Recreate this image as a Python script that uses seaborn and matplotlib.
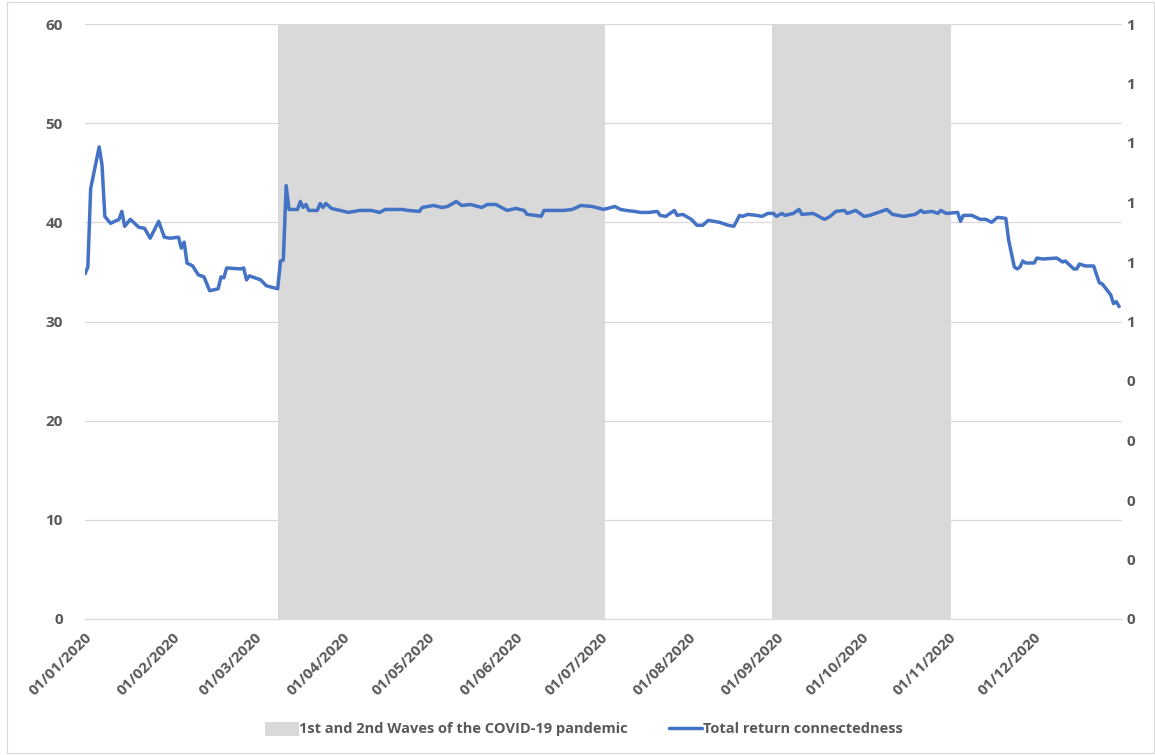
import pandas as pd
import numpy as np
import seaborn as sns
import matplotlib.pyplot as plt
from matplotlib.patches import Patch, Rectangle
from matplotlib.lines import Line2D

# days since 01/01/2020 and total connectedness value
day_offset = [0, 1, 2, 5, 6, 7, 9, 12, 13, 14, 16, 19, 21, 23, 26, 28, 30, 33, 34, 35,
              36, 38, 40, 42, 43, 44, 47, 48, 49, 50, 55, 56, 57, 58, 62, 64, 68, 69, 70, 71,
              72, 75, 76, 77, 78, 79, 82, 83, 84, 85, 87, 90, 93, 97, 101, 104, 106, 112, 114, 118,
              119, 123, 126, 128, 131, 133, 136, 140, 142, 145, 149, 152, 155, 156, 159, 161, 162, 169, 172, 175,
              179, 183, 187, 189, 191, 194, 196, 199, 202, 203, 205, 208, 209, 211, 214, 216, 218, 220, 224, 227,
              229, 231, 232, 234, 237, 239, 241, 243, 244, 246, 247, 250, 252, 253, 257, 261, 263, 265, 268, 269,
              272, 275, 277, 280, 283, 285, 289, 293, 295, 296, 299, 301, 302, 304, 308, 309, 310, 313, 316, 318,
              320, 322, 325, 326, 328, 329, 330, 331, 332, 335, 336, 338, 343, 345, 346, 349, 350, 351, 353, 356,
              358, 359, 362, 363, 364, 365]
connectedness = [34.8, 35.5, 43.4, 47.6, 45.8, 40.6, 39.9, 40.3, 41.1, 39.6, 40.3, 39.5, 39.4, 38.4, 40.1, 38.5, 38.4, 38.5, 37.4, 38.0,
                 35.9, 35.6, 34.7, 34.5, 33.8, 33.1, 33.3, 34.5, 34.4, 35.4, 35.3, 35.4, 34.2, 34.6, 34.2, 33.6, 33.3, 36.1, 36.2, 43.7,
                 41.3, 41.3, 42.1, 41.5, 41.8, 41.2, 41.2, 41.9, 41.5, 41.9, 41.4, 41.2, 41.0, 41.2, 41.2, 41.0, 41.3, 41.3, 41.2, 41.1,
                 41.5, 41.7, 41.5, 41.6, 42.1, 41.7, 41.8, 41.5, 41.8, 41.8, 41.2, 41.4, 41.2, 40.8, 40.7, 40.6, 41.2, 41.2, 41.3, 41.7,
                 41.6, 41.3, 41.6, 41.3, 41.2, 41.1, 41.0, 41.0, 41.1, 40.7, 40.6, 41.2, 40.7, 40.8, 40.3, 39.7, 39.7, 40.2, 40.0, 39.7,
                 39.6, 40.7, 40.6, 40.8, 40.7, 40.6, 40.9, 40.9, 40.6, 40.9, 40.7, 40.9, 41.3, 40.8, 40.9, 40.3, 40.6, 41.1, 41.2, 40.9,
                 41.2, 40.6, 40.7, 41.0, 41.3, 40.8, 40.6, 40.8, 41.2, 41.0, 41.1, 40.9, 41.2, 40.9, 41.0, 40.1, 40.7, 40.7, 40.3, 40.3,
                 40.0, 40.5, 40.4, 38.2, 35.5, 35.3, 35.5, 36.1, 35.9, 35.9, 36.4, 36.3, 36.4, 36.0, 36.1, 35.3, 35.3, 35.8, 35.6, 35.6,
                 33.9, 33.8, 32.7, 31.8, 32.0, 31.5]

wave_starts = ['2020-03-09 02:00', '2020-08-30 12:00']
wave_ends = ['2020-07-02 12:00', '2020-11-01 16:00']

month_ticks = pd.date_range('2020-01-01', '2021-01-01', freq='MS')
month_labels = [d.strftime('%d/%m/%Y') for d in month_ticks[:-1]] + ['']

left_ticks = [0, 10, 20, 30, 40, 50, 60]
right_ticks = [0, 0.1, 0.2, 0.3, 0.4, 0.5, 0.6, 0.7, 0.8, 0.9, 1.0]
right_labels = ['0', '0', '0', '0', '0', '1', '1', '1', '1', '1', '1']

df = pd.DataFrame({
    'date': pd.Timestamp('2020-01-01') + pd.to_timedelta(day_offset, unit='D'),
    'value': connectedness,
})

sns.set_style('white')
plt.rcParams['font.family'] = ['Open Sans', 'DejaVu Sans']
grey_text = '#595959'
line_blue = '#4472C4'
shade = '#D9D9D9'
fs = 11

fig = plt.figure(figsize=(11.55, 7.55), dpi=100)
ax = fig.add_axes([85 / 1155, 1 - 619 / 755, (1122 - 85) / 1155, (619 - 24) / 755])

for s, e in zip(wave_starts, wave_ends):
    ax.axvspan(pd.Timestamp(s), pd.Timestamp(e), ymin=0, ymax=1, color=shade, lw=0, zorder=1)

for y in left_ticks[1:]:
    ax.axhline(y, color='#D9D9D9', lw=0.9, zorder=0.5)

sns.lineplot(data=df, x='date', y='value', ax=ax, color=line_blue, lw=2.5, zorder=3)

ax.set_xlim(pd.Timestamp('2020-01-01'), pd.Timestamp('2021-01-01'))
ax.set_ylim(0, 60)
ax.set_xlabel('')
ax.set_ylabel('')
ax.set_yticks(left_ticks)
ax.set_yticklabels([str(t) for t in left_ticks], fontsize=fs, fontweight='bold', color=grey_text)
ax.set_xticks(month_ticks)
ax.set_xticklabels(month_labels, rotation=45, ha='right', va='top', rotation_mode='anchor',
                   fontsize=fs, fontweight='bold', color=grey_text)
ax.tick_params(axis='x', length=5, width=0.8, color='#D9D9D9', direction='out', pad=3)
ax.tick_params(axis='y', length=0, pad=16)
for side in ['left', 'right', 'top']:
    ax.spines[side].set_visible(False)
ax.spines['bottom'].set_color('#D9D9D9')
ax.spines['bottom'].set_linewidth(0.9)
ax.spines['bottom'].set_zorder(4)

ax2 = ax.twinx()
ax2.set_ylim(0, 1)
ax2.set_yticks(right_ticks)
ax2.set_yticklabels(right_labels, fontsize=fs, fontweight='bold', color=grey_text)
ax2.tick_params(axis='y', length=0, pad=3)
for side in ['left', 'right', 'top', 'bottom']:
    ax2.spines[side].set_visible(False)

handles = [Patch(facecolor=shade, edgecolor='none'),
           Line2D([0], [0], color=line_blue, lw=2.5)]
labels = ['1st and 2nd Waves of the COVID-19 pandemic', 'Total return connectedness']
leg = fig.legend(handles, labels, loc='center', bbox_to_anchor=(584 / 1155, 1 - 729 / 755),
                 ncol=2, frameon=False, handlelength=2.3, handleheight=1.1, handletextpad=0.05,
                 columnspacing=2.8, prop={'size': 10.5, 'weight': 'bold'})
for t in leg.get_texts():
    t.set_color(grey_text)

fig.patches.append(Rectangle((7 / 1155, 0.002), 1 - 8 / 1155, 0.996, transform=fig.transFigure,
                             fill=False, edgecolor='#D9D9D9', lw=0.8))

fig.savefig('out.png', dpi=100, facecolor='white')
